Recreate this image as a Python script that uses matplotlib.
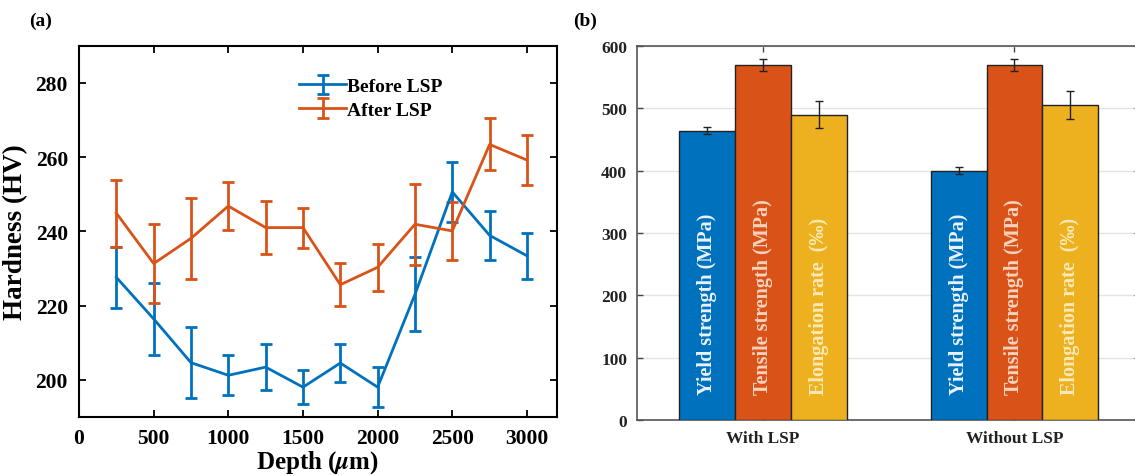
import numpy as np
import matplotlib
matplotlib.use("Agg")
from matplotlib import pyplot as plt

plt.rcParams['font.family'] = ['Liberation Serif', 'DejaVu Serif']
plt.rcParams['font.weight'] = 'bold'
plt.rcParams['mathtext.fontset'] = 'stix'

BLUE = '#0072BD'
ORANGE = '#D95319'
YELLOW = '#EDB120'

# (a) hardness profile
depth = [250, 500, 750, 1000, 1250, 1500, 1750, 2000, 2250, 2500, 2750, 3000]
before_hv = [227.6, 216.4, 204.6, 201.2, 203.4, 198.0, 204.5, 198.0, 223.0, 250.6, 238.9, 233.4]
before_err = [8.3, 9.8, 9.5, 5.4, 6.2, 4.5, 5.2, 5.4, 10.0, 8.2, 6.5, 6.2]
after_hv = [244.9, 231.3, 238.1, 246.8, 241.0, 241.0, 225.6, 230.3, 241.9, 240.1, 263.4, 259.2]
after_err = [9.0, 10.6, 11.0, 6.5, 7.2, 5.4, 5.8, 6.3, 10.9, 7.7, 7.0, 6.8]

# (b) tensile properties
groups = ['With LSP', 'Without LSP']
prop_names = ['Yield strength (MPa)', 'Tensile strength (MPa)', 'Elongation rate  (‰)']
yield_str = [464, 400]
yield_err = [5.5, 6]
tensile_str = [570, 569.5]
tensile_err = [9.6, 10]
elong_rate = [489.6, 505]
elong_err = [21.6, 22.7]

fig = plt.figure(figsize=(11.35, 4.77), dpi=100)

ax1 = fig.add_axes([0.0696, 0.124, 0.421, 0.778])
ax1.errorbar(depth, before_hv, yerr=before_err, color=BLUE, lw=2, capsize=4,
             capthick=2, elinewidth=2, label='Before LSP')
ax1.errorbar(depth, after_hv, yerr=after_err, color=ORANGE, lw=2, capsize=4,
             capthick=2, elinewidth=2, label='After LSP')
ax1.set_xlim(0, 3200)
ax1.set_ylim(190, 290)
ax1.set_xticks(range(0, 3001, 500))
ax1.set_yticks(range(200, 281, 20))
ax1.tick_params(direction='in', length=5, width=1.3, top=True, right=True,
                labelsize=15.5, pad=8)
for s in ax1.spines.values():
    s.set_linewidth(1.5)
ax1.set_xlabel(r'Depth ($\mu$m)', fontsize=18, fontweight='bold', labelpad=0)
ax1.set_ylabel('Hardness (HV)', fontsize=19.5, fontweight='bold', labelpad=5)
leg = ax1.legend(loc='upper left', bbox_to_anchor=(0.445, 0.935), frameon=False,
                 fontsize=14, handlelength=2.4, handletextpad=0.05,
                 labelspacing=0.3, borderaxespad=0)
fig.text(0.026, 0.955, '(a)', fontsize=14, fontweight='bold', va='center')

# grouped bars
ax2 = fig.add_axes([0.5612, 0.1174, 0.4435, 0.7841])
x = np.arange(1, len(groups) + 1)
w = 0.222
series = [(yield_str, yield_err, BLUE, '#EAF2FF'),
          (tensile_str, tensile_err, ORANGE, '#F9D2BE'),
          (elong_rate, elong_err, YELLOW, '#FBEAB8')]
for i, (vals, errs, col, tcol) in enumerate(series):
    xpos = x + (i - 1) * w
    ax2.bar(xpos, vals, width=w, color=col, edgecolor='#222222', linewidth=1,
            zorder=3)
    ax2.errorbar(xpos, vals, yerr=errs, fmt='none', ecolor='#222222',
                 elinewidth=1, capsize=3, capthick=1, zorder=4)
    for xp in xpos:
        ax2.text(xp, 42, prop_names[i], rotation=90, ha='center', va='bottom',
                 color=tcol, fontsize=14.5, fontweight='bold', zorder=5)
ax2.set_xlim(0.5, 2.5)
ax2.set_ylim(0, 600)
ax2.set_yticks(range(0, 601, 100))
ax2.set_xticks(x)
ax2.set_xticklabels(groups)
ax2.yaxis.grid(True, color='#E4E4E4', lw=1, zorder=0)
ax2.set_axisbelow(True)
ax2.tick_params(direction='in', length=4, width=1, top=True, right=True,
                labelsize=12.5, colors='#444444', labelcolor='#222222', pad=7)
for s in ax2.spines.values():
    s.set_color('#555555')
    s.set_linewidth(1.2)
fig.text(0.505, 0.955, '(b)', fontsize=14, fontweight='bold', va='center')

fig.savefig('out.png', dpi=100)
